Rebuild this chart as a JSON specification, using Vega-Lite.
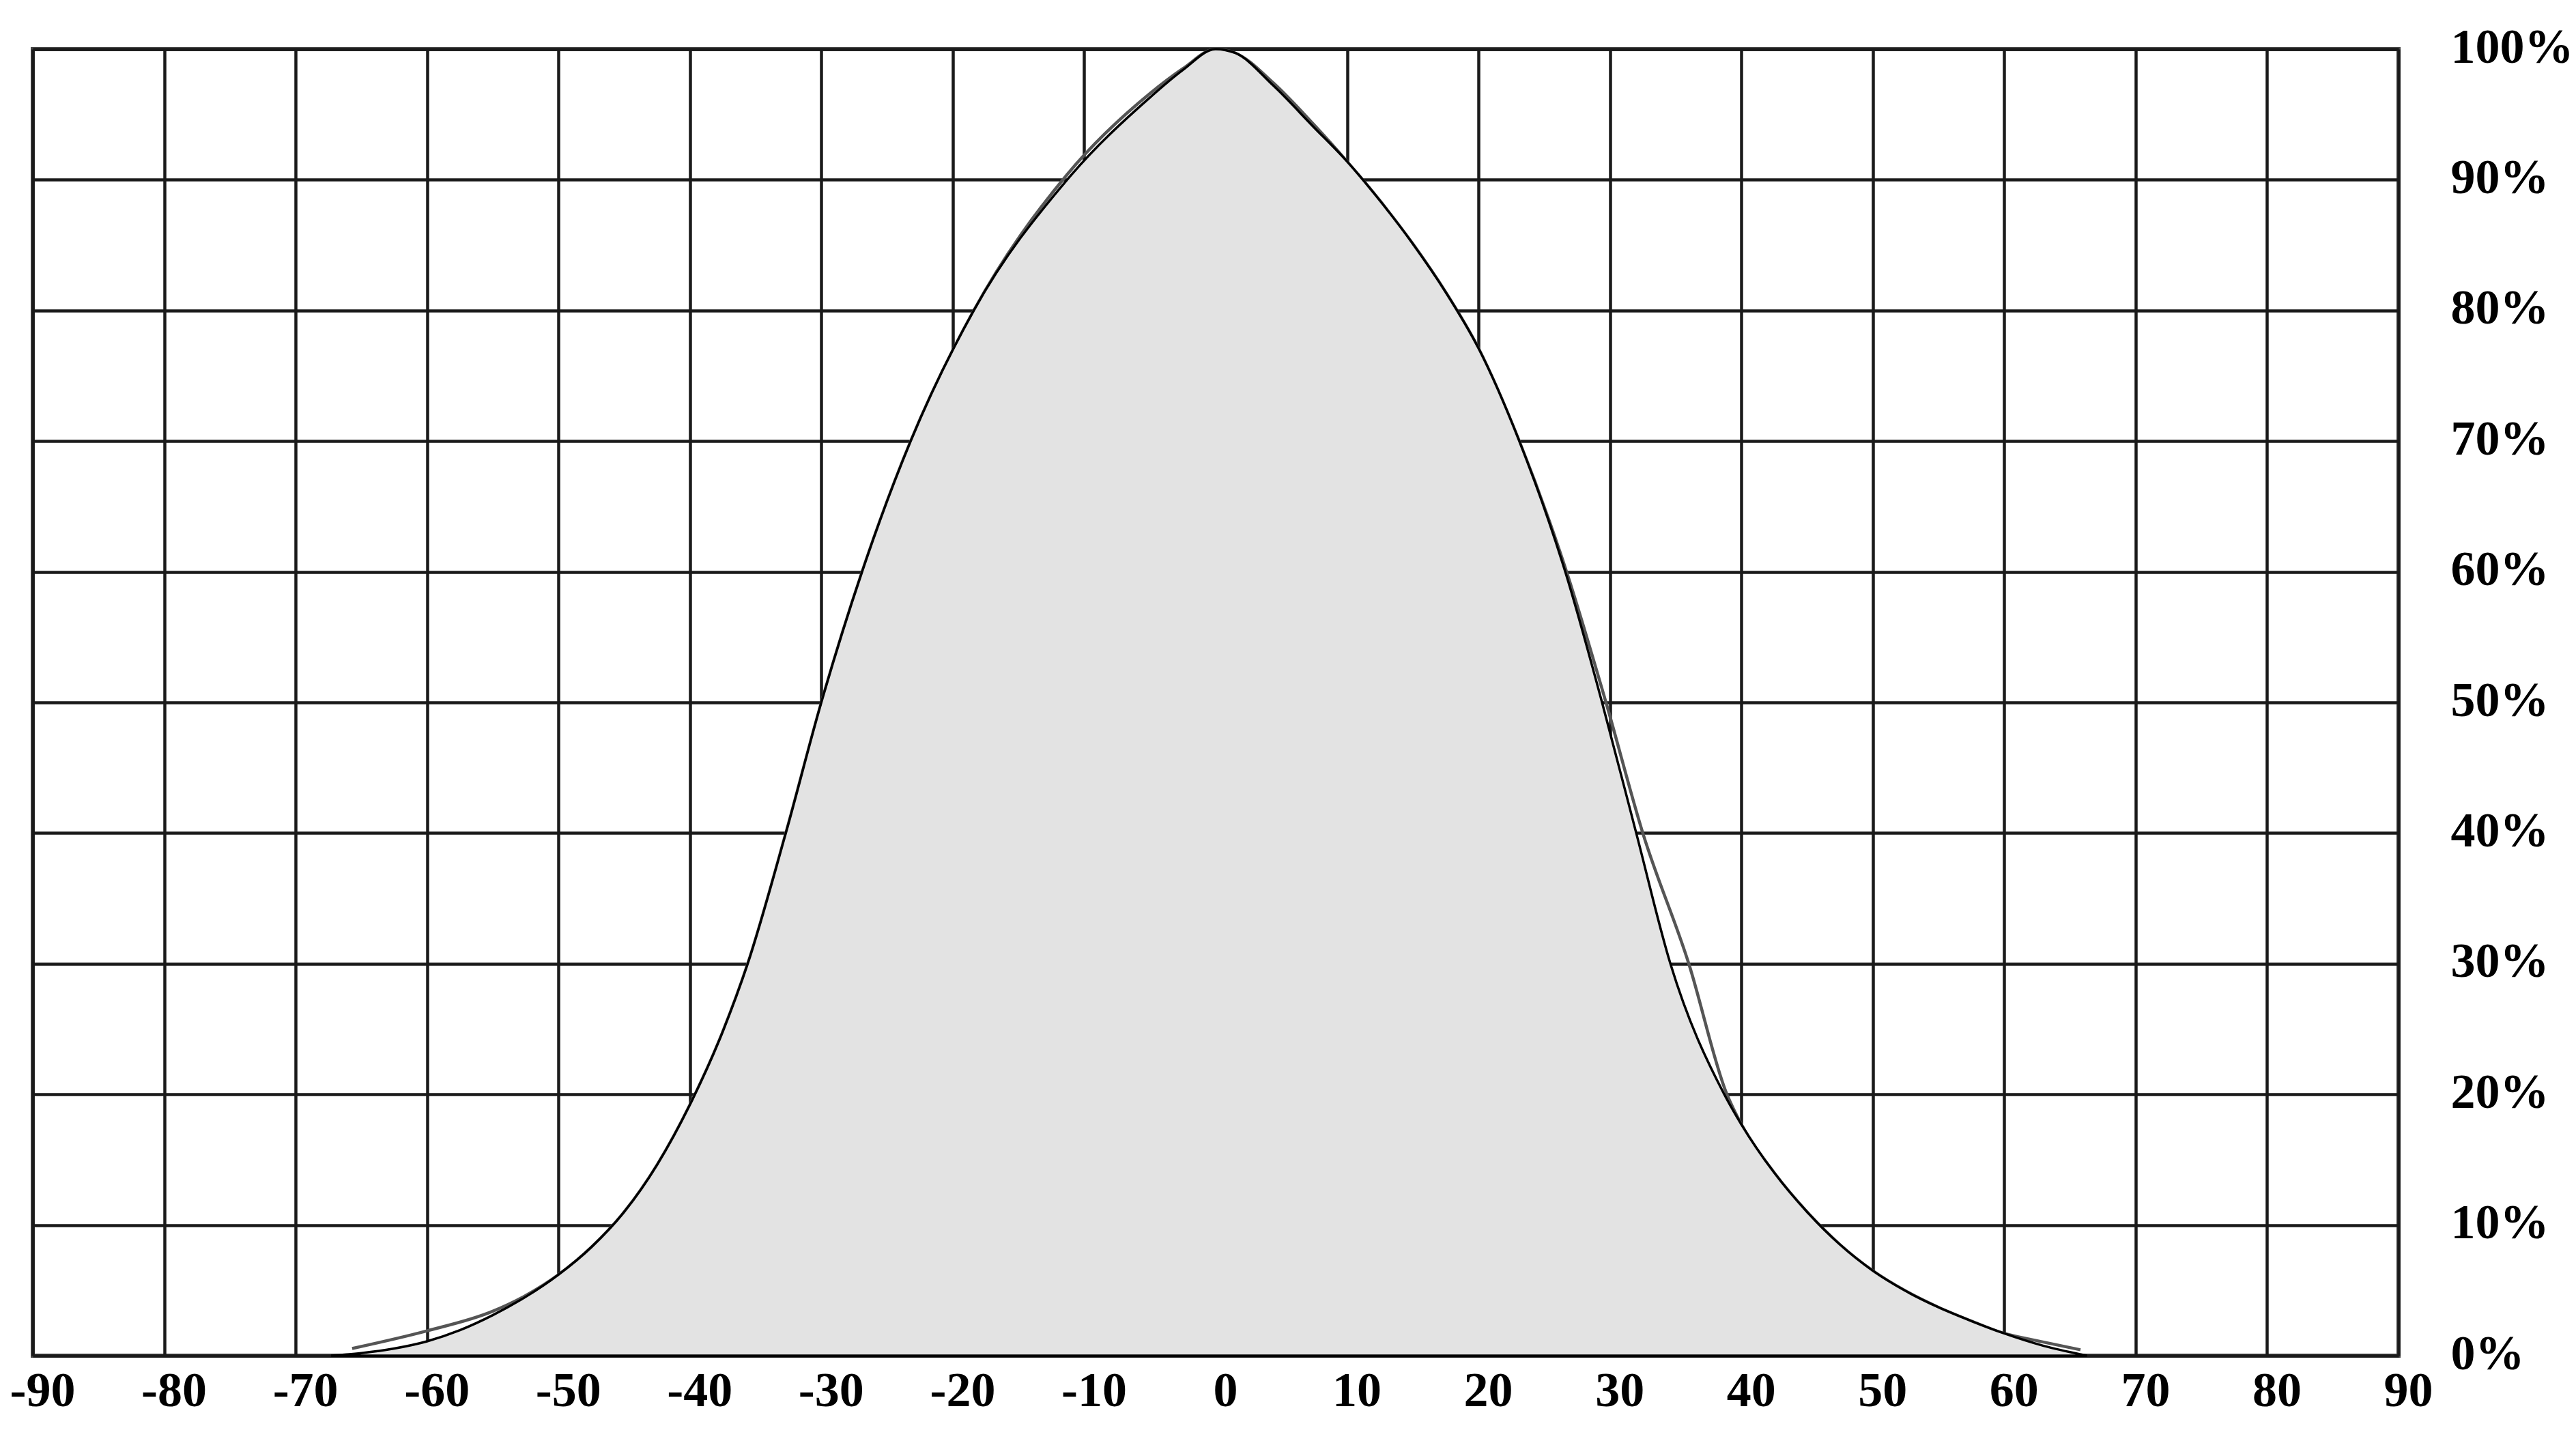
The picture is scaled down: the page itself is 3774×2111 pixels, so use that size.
{
  "$schema": "https://vega.github.io/schema/vega-lite/v6.json",
  "width": 3466,
  "height": 1914,
  "autosize": {"type": "none"},
  "padding": {"left": 48, "top": 72, "right": 260, "bottom": 125},
  "background": "white",
  "config": {
    "view": {"stroke": "#454545", "strokeWidth": 6},
    "axis": {
      "labelFont": "Liberation Serif",
      "labelFontWeight": "bold",
      "labelFontSize": 72,
      "labelColor": "black",
      "labelLimit": 500,
      "grid": true,
      "gridColor": "#1a1a1a",
      "gridWidth": 4.5,
      "ticks": false,
      "domain": false,
      "title": null,
      "labelOverlap": false,
      "labelBound": false,
      "labelFlush": false
    }
  },
  "datasets": {
    "curve": [
      {"x": -67.3, "y": 0}, {"x": -65, "y": 0.2}, {"x": -62.5, "y": 0.55}, {"x": -60, "y": 1.1},
      {"x": -57.5, "y": 1.95}, {"x": -55, "y": 3.1}, {"x": -52.5, "y": 4.5}, {"x": -50, "y": 6.2},
      {"x": -47.5, "y": 8.3}, {"x": -45, "y": 11.0}, {"x": -42.5, "y": 14.6}, {"x": -40, "y": 19.2},
      {"x": -37.5, "y": 24.8}, {"x": -35.6, "y": 30}, {"x": -32.7, "y": 40}, {"x": -30, "y": 50},
      {"x": -26.9, "y": 60}, {"x": -23.2, "y": 70}, {"x": -18.4, "y": 80}, {"x": -11.3, "y": 90},
      {"x": -5, "y": 96.3}, {"x": -2.5, "y": 98.4}, {"x": 0, "y": 100}, {"x": 1.5, "y": 99.7},
      {"x": 4.4, "y": 97.2}, {"x": 7.4, "y": 94.1}, {"x": 10, "y": 91.4}, {"x": 12.5, "y": 88.4},
      {"x": 15, "y": 85.1}, {"x": 17.5, "y": 81.4}, {"x": 20, "y": 77.1}, {"x": 23.1, "y": 70},
      {"x": 26.6, "y": 60}, {"x": 29.4, "y": 50}, {"x": 32, "y": 40}, {"x": 34.6, "y": 30},
      {"x": 38.7, "y": 20}, {"x": 40, "y": 17.7}, {"x": 42.5, "y": 14}, {"x": 45, "y": 11},
      {"x": 47.5, "y": 8.5}, {"x": 50, "y": 6.5}, {"x": 52.5, "y": 4.95}, {"x": 55, "y": 3.7},
      {"x": 57.5, "y": 2.65}, {"x": 60, "y": 1.7}, {"x": 63, "y": 0.75}, {"x": 66.3, "y": 0}
    ],
    "trace": [
      {"x": -65.7, "y": 0.55}, {"x": -60, "y": 1.9}, {"x": -55, "y": 3.4}, {"x": -52.5, "y": 4.6},
      {"x": -50, "y": 6.2}, {"x": -47.5, "y": 8.3}, {"x": -45, "y": 11.0}, {"x": -42.5, "y": 14.6},
      {"x": -40, "y": 19.2}, {"x": -37.5, "y": 24.8}, {"x": -35.6, "y": 30}, {"x": -32.7, "y": 40},
      {"x": -30, "y": 50}, {"x": -26.9, "y": 60}, {"x": -23.2, "y": 70}, {"x": -18.4, "y": 80},
      {"x": -11.3, "y": 90.4}, {"x": -5, "y": 96.6}, {"x": -2.5, "y": 98.5}, {"x": 0, "y": 100},
      {"x": 1.5, "y": 99.7}, {"x": 4.4, "y": 97.4}, {"x": 7.4, "y": 94.3}, {"x": 10, "y": 91.4},
      {"x": 12.5, "y": 88.4}, {"x": 15, "y": 85.1}, {"x": 17.5, "y": 81.4}, {"x": 20, "y": 77.1},
      {"x": 23.1, "y": 70}, {"x": 26.7, "y": 60}, {"x": 29.7, "y": 50}, {"x": 32.5, "y": 40},
      {"x": 36.0, "y": 30}, {"x": 38.9, "y": 20}, {"x": 40, "y": 17.7}, {"x": 42.5, "y": 14},
      {"x": 45, "y": 11}, {"x": 47.5, "y": 8.5}, {"x": 50, "y": 6.5}, {"x": 52.5, "y": 4.95},
      {"x": 55, "y": 3.7}, {"x": 57.5, "y": 2.65}, {"x": 60, "y": 1.7}, {"x": 62, "y": 1.25},
      {"x": 65.8, "y": 0.45}
    ]
  },
  "encoding": {
    "x": {
      "field": "x",
      "type": "quantitative",
      "scale": {"domain": [-90, 90], "nice": false, "zero": false},
      "axis": {
        "orient": "bottom",
        "values": [-90, -80, -70, -60, -50, -40, -30, -20, -10, 0, 10, 20, 30, 40, 50, 60, 70, 80, 90],
        "labelExpr": "'' + datum.value",
        "labelPadding": 16,
        "labelOffset": 14
      }
    },
    "y": {
      "field": "y",
      "type": "quantitative",
      "scale": {"domain": [0, 100], "nice": false},
      "axis": {
        "orient": "right",
        "values": [0, 10, 20, 30, 40, 50, 60, 70, 80, 90, 100],
        "labelExpr": "datum.value + '%'",
        "labelAlign": "left",
        "labelBaseline": "middle",
        "labelPadding": 76,
        "labelOffset": -3
      }
    }
  },
  "layer": [
    {
      "data": {"name": "trace"},
      "mark": {"type": "line", "interpolate": "monotone", "color": "#555555", "strokeWidth": 4.5}
    },
    {
      "data": {"name": "curve"},
      "mark": {"type": "area", "interpolate": "monotone", "fill": "#e3e3e3", "fillOpacity": 1, "stroke": "black", "strokeWidth": 3.5}
    }
  ]
}
